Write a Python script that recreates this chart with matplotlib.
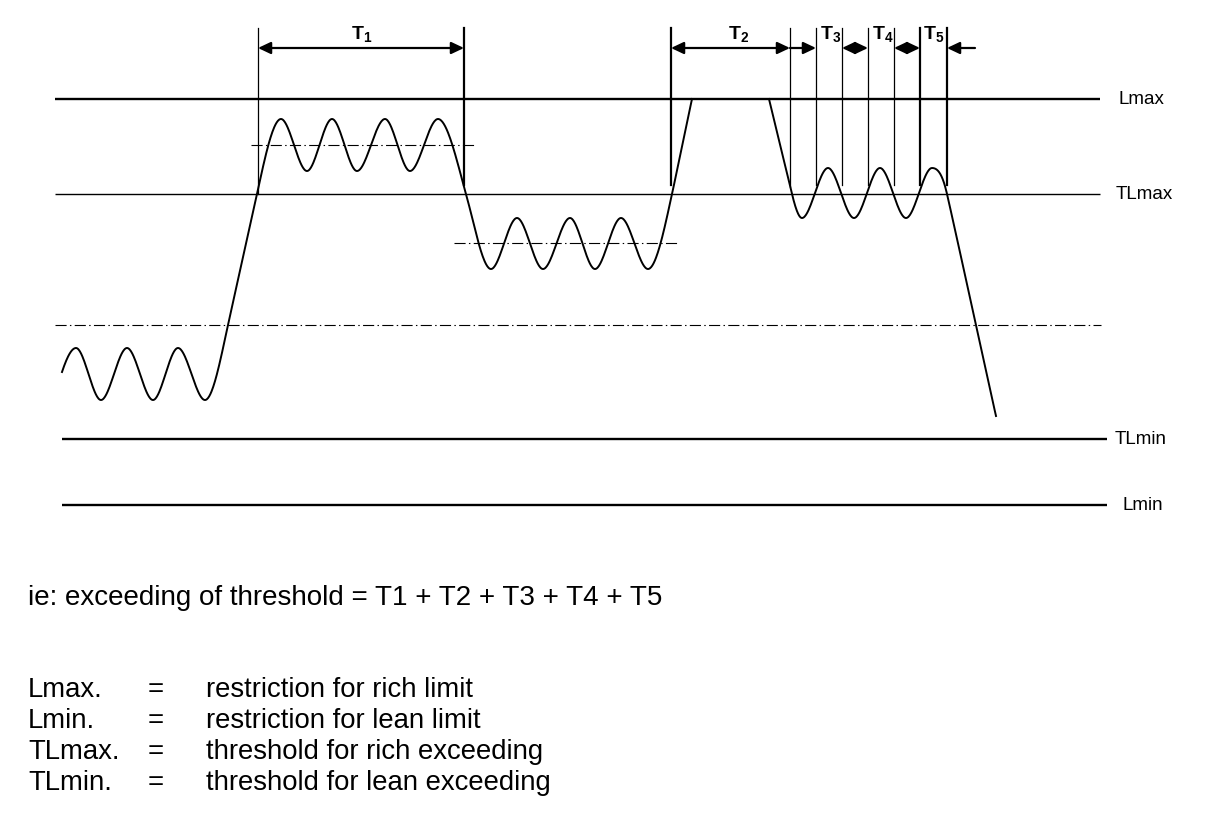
import matplotlib
matplotlib.use("Agg")
import matplotlib.pyplot as plt
import numpy as np

plt.rcParams['font.family'] = ['Liberation Sans', 'DejaVu Sans']
plt.rcParams['mathtext.fontset'] = 'custom'
plt.rcParams['mathtext.rm'] = 'Liberation Sans'
plt.rcParams['mathtext.bf'] = 'Liberation Sans:bold'

# limit levels (pixel rows of the sketch) and their labels
level_names = ['Lmax', 'TLmax', 'TLmin', 'Lmin']
level_y = [99, 194, 439, 505]
level_x0 = [55, 55, 62, 62]
level_x1 = [1100, 1100, 1107, 1107]
level_lw = [1.7, 1.0, 1.7, 1.7]
label_x = [1118, 1116, 1115, 1123]
mid_level_y = 325  # dash-dot line

# signal key points: x, y, slope
sig1_x = [62, 76, 101, 127, 153, 178, 205, 228, 257, 281, 307, 332, 357, 385, 410, 438,
          466, 491, 517, 543, 570, 595, 621, 648, 672, 692]
sig1_y = [372, 348, 400, 348, 400, 348, 400, 325, 194, 119, 171, 119, 171, 119, 171, 119,
          194, 269, 218, 269, 218, 269, 218, 269, 194, 99]
sig1_m = [-3.0, 0, 0, 0, 0, 0, 0, -4.6, -4.6, 0, 0, 0, 0, 0, 0, 0,
          3.6, 0, 0, 0, 0, 0, 0, 0, -4.6, -4.6]
flat_x = [692, 769]
sig2_x = [769, 792, 802, 828, 854, 880, 906, 932, 947, 996]
sig2_y = [99, 194, 218, 168, 218, 168, 218, 168, 194, 416]
sig2_m = [4.1, 4.1, 0, 0, 0, 0, 0, 0, 4.4, 4.4]

# mean lines of the oscillations
mean_y = [145, 243]
mean_x0 = [251, 454]
mean_x1 = [475, 677]

# time marks
mark_x = [258, 464, 671, 790, 816, 842, 868, 894, 920, 947]
mark_bottom = [194, 185, 185, 187, 185, 185, 185, 185, 185, 185]
mark_thick = [False, True, True, False, False, False, False, False, True, True]
arrow_y = 48
double_arrows = [(258, 464), (671, 790), (842, 868), (894, 920)]
single_arrows = [(790, 816), (975, 947)]  # (from, to)
t_names = ['1', '2', '3', '4', '5']
t_x = [362, 739, 831, 883, 934]

note = 'ie: exceeding of threshold = T1 + T2 + T3 + T4 + T5'
legend_keys = ['Lmax.', 'Lmin.', 'TLmax.', 'TLmin.']
legend_text = ['restriction for rich limit', 'restriction for lean limit',
               'threshold for rich exceeding', 'threshold for lean exceeding']


def hermite(xs, ys, ms, n=40):
    out_x, out_y = [], []
    for i in range(len(xs) - 1):
        x0, x1 = xs[i], xs[i + 1]
        y0, y1 = ys[i], ys[i + 1]
        m0, m1 = ms[i], ms[i + 1]
        h = x1 - x0
        t = np.linspace(0, 1, n)
        h00 = 2 * t**3 - 3 * t**2 + 1
        h10 = t**3 - 2 * t**2 + t
        h01 = -2 * t**3 + 3 * t**2
        h11 = t**3 - t**2
        out_x.append(x0 + t * h)
        out_y.append(h00 * y0 + h10 * h * m0 + h01 * y1 + h11 * h * m1)
    return np.concatenate(out_x), np.concatenate(out_y)


fig = plt.figure(figsize=(12.16, 8.24), dpi=100)
ax = fig.add_axes([0, 0, 1, 1])
ax.set_xlim(0, 1216)
ax.set_ylim(824, 0)
ax.axis('off')

for name, y, x0, x1, lw, lx in zip(level_names, level_y, level_x0, level_x1, level_lw, label_x):
    ax.plot([x0, x1], [y, y], color='black', lw=lw, solid_capstyle='butt')
    ax.text(lx, y, name, fontsize=13.5, va='center', ha='left')

dashdot = (0, (10, 3, 1.3, 3))
ax.plot([55, 1101], [mid_level_y, mid_level_y], color='black', lw=0.8, linestyle=dashdot)
for y, x0, x1 in zip(mean_y, mean_x0, mean_x1):
    ax.plot([x0, x1], [y, y], color='black', lw=0.8, linestyle=dashdot)

# signal
x1s, y1s = hermite(sig1_x, sig1_y, sig1_m)
x2s, y2s = hermite(sig2_x, sig2_y, sig2_m)
ax.plot(x1s, y1s, color='black', lw=1.4)
ax.plot(flat_x, [99, 99], color='black', lw=1.4)
ax.plot(x2s, y2s, color='black', lw=1.4)

# time marks and arrows
for x, yb, thick in zip(mark_x, mark_bottom, mark_thick):
    ax.plot([x, x], [28, yb], color='black', lw=1.6 if thick else 0.9)

style_d = '<|-|>,head_length=0.38,head_width=0.18'
style_s = '-|>,head_length=0.38,head_width=0.18'
for a, b in double_arrows:
    ax.annotate('', xy=(b, arrow_y), xytext=(a, arrow_y),
                arrowprops=dict(arrowstyle=style_d, mutation_scale=20, color='black',
                                lw=1.6, shrinkA=0, shrinkB=0))
for a, b in single_arrows:
    ax.annotate('', xy=(b, arrow_y), xytext=(a, arrow_y),
                arrowprops=dict(arrowstyle=style_s, mutation_scale=20, color='black',
                                lw=1.6, shrinkA=0, shrinkB=0))

for n, x in zip(t_names, t_x):
    ax.text(x, 39, r'$\mathbf{T_{%s}}$' % n, fontsize=14, ha='center', va='baseline')

ax.text(28, 605, note, fontsize=20, ha='left', va='baseline')
for i, (k, t) in enumerate(zip(legend_keys, legend_text)):
    yb = 697 + 31 * i
    ax.text(28, yb, k, fontsize=19.8, ha='left', va='baseline')
    ax.text(148, yb, '=', fontsize=19.8, ha='left', va='baseline')
    ax.text(206, yb, t, fontsize=19.8, ha='left', va='baseline')

fig.savefig('out.png', dpi=100, facecolor='white')
